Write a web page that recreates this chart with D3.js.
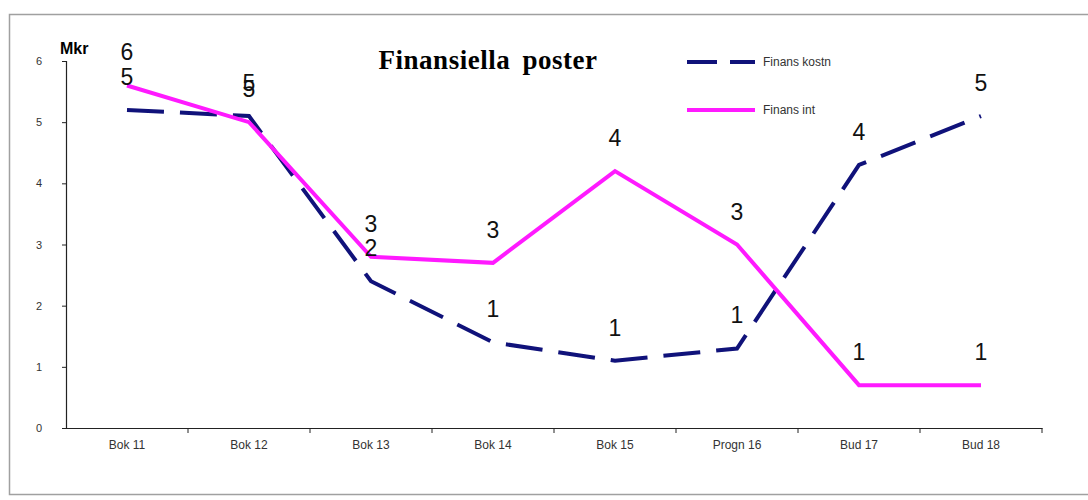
<!DOCTYPE html>
<html>
<head>
<meta charset="utf-8">
<script src="https://cdn.jsdelivr.net/npm/d3@7"></script>
<style>
  body { margin: 0; background: #fff; }
  .tick text { font-family: Arial, "Liberation Sans", sans-serif; }
</style>
</head>
<body>
<div id="chart"></div>
<script>
"use strict";

// data
var categories = ["Bok 11", "Bok 12", "Bok 13", "Bok 14", "Bok 15", "Progn 16", "Bud 17", "Bud 18"];
var finansKostn = [5.2, 5.1, 2.4, 1.4, 1.1, 1.3, 4.3, 5.1];
var finansInt = [5.6, 5.0, 2.8, 2.7, 4.2, 3.0, 0.7, 0.7];
var yTicks = [0, 1, 2, 3, 4, 5, 6];
var seriesNames = ["Finans kostn", "Finans int"];

var width = 1088, height = 500;
var margin = { top: 61, left: 66, right: 46, bottom: 72 };

var svg = d3.select("#chart")
  .append("svg")
  .attr("width", width)
  .attr("height", height);

// frame round the chart
svg.append("rect")
  .attr("x", 9.5)
  .attr("y", 14.5)
  .attr("width", 1090)
  .attr("height", 480)
  .attr("fill", "none")
  .attr("stroke", "#a0a0a0")
  .attr("stroke-width", 1.5);

var x = d3.scaleBand()
  .domain(categories)
  .range([margin.left, width - margin.right]);

var y = d3.scaleLinear()
  .domain([0, 6])
  .range([height - margin.bottom, margin.top]);

var cx = function(i) { return x(categories[i]) + x.bandwidth() / 2; };

// axes
var yAxis = svg.append("g")
  .attr("transform", "translate(" + margin.left + ",0)")
  .call(d3.axisLeft(y).tickValues(yTicks).tickSize(4).tickPadding(20).tickFormat(d3.format("d")));
yAxis.select(".domain").attr("stroke", "#222").attr("stroke-width", 1.2);
yAxis.selectAll(".tick line").attr("stroke", "#222");
yAxis.selectAll(".tick text").attr("font-size", 11).attr("fill", "#333");

var xAxis = svg.append("g")
  .attr("transform", "translate(0," + y(0) + ")")
  .call(d3.axisBottom(x).tickSize(0).tickPadding(12));
xAxis.select(".domain").attr("stroke", "#222").attr("stroke-width", 1.2);
xAxis.selectAll(".tick text").attr("font-size", 12).attr("fill", "#333");

// category boundary ticks
xAxis.selectAll(".sep")
  .data(categories)
  .enter().append("line")
  .attr("class", "sep")
  .attr("x1", function(d) { return x(d) + x.bandwidth(); })
  .attr("x2", function(d) { return x(d) + x.bandwidth(); })
  .attr("y1", 0)
  .attr("y2", 5)
  .attr("stroke", "#222");

svg.append("text")
  .attr("x", 60)
  .attr("y", 54)
  .attr("font-family", "Arial, sans-serif")
  .attr("font-weight", "bold")
  .attr("font-size", 16)
  .text("Mkr");

svg.append("text")
  .attr("x", 488)
  .attr("y", 69)
  .attr("text-anchor", "middle")
  .attr("font-family", "'Liberation Serif', 'Times New Roman', serif")
  .attr("font-weight", "bold")
  .attr("font-size", 27)
  .attr("letter-spacing", 0.5)
  .attr("word-spacing", 5)
  .text("Finansiella poster");

var line = d3.line()
  .x(function(d, i) { return cx(i); })
  .y(function(d) { return y(d); });

svg.append("path")
  .datum(finansKostn)
  .attr("d", line)
  .attr("fill", "none")
  .attr("stroke", "#10127a")
  .attr("stroke-width", 4)
  .attr("stroke-dasharray", "37,16");

svg.append("path")
  .datum(finansInt)
  .attr("d", line)
  .attr("fill", "none")
  .attr("stroke", "#ff1aff")
  .attr("stroke-width", 4);

// value labels (rounded, like the original)
var addLabels = function(values) {
  svg.selectAll(null)
    .data(values)
    .enter().append("text")
    .attr("x", function(d, i) { return cx(i); })
    .attr("y", function(d) { return y(d) - 25; })
    .attr("text-anchor", "middle")
    .attr("font-family", "Arial, 'Liberation Sans', sans-serif")
    .attr("font-size", 23)
    .attr("fill", "#111")
    .text(function(d) { return Math.round(d); });
};
addLabels(finansKostn);
addLabels(finansInt);

// legend
var legend = svg.append("g").attr("transform", "translate(687,62)");
legend.append("line")
  .attr("x1", 0).attr("x2", 68).attr("y1", 0).attr("y2", 0)
  .attr("stroke", "#10127a").attr("stroke-width", 4)
  .attr("stroke-dasharray", "30,13");
legend.append("line")
  .attr("x1", 0).attr("x2", 68).attr("y1", 48).attr("y2", 48)
  .attr("stroke", "#ff1aff").attr("stroke-width", 4);
legend.selectAll("text")
  .data(seriesNames)
  .enter().append("text")
  .attr("x", 76)
  .attr("y", function(d, i) { return i * 48 + 4; })
  .attr("font-family", "Arial, 'Liberation Sans', sans-serif")
  .attr("font-size", 12)
  .attr("fill", "#333")
  .text(function(d) { return d; });
</script>
</body>
</html>
